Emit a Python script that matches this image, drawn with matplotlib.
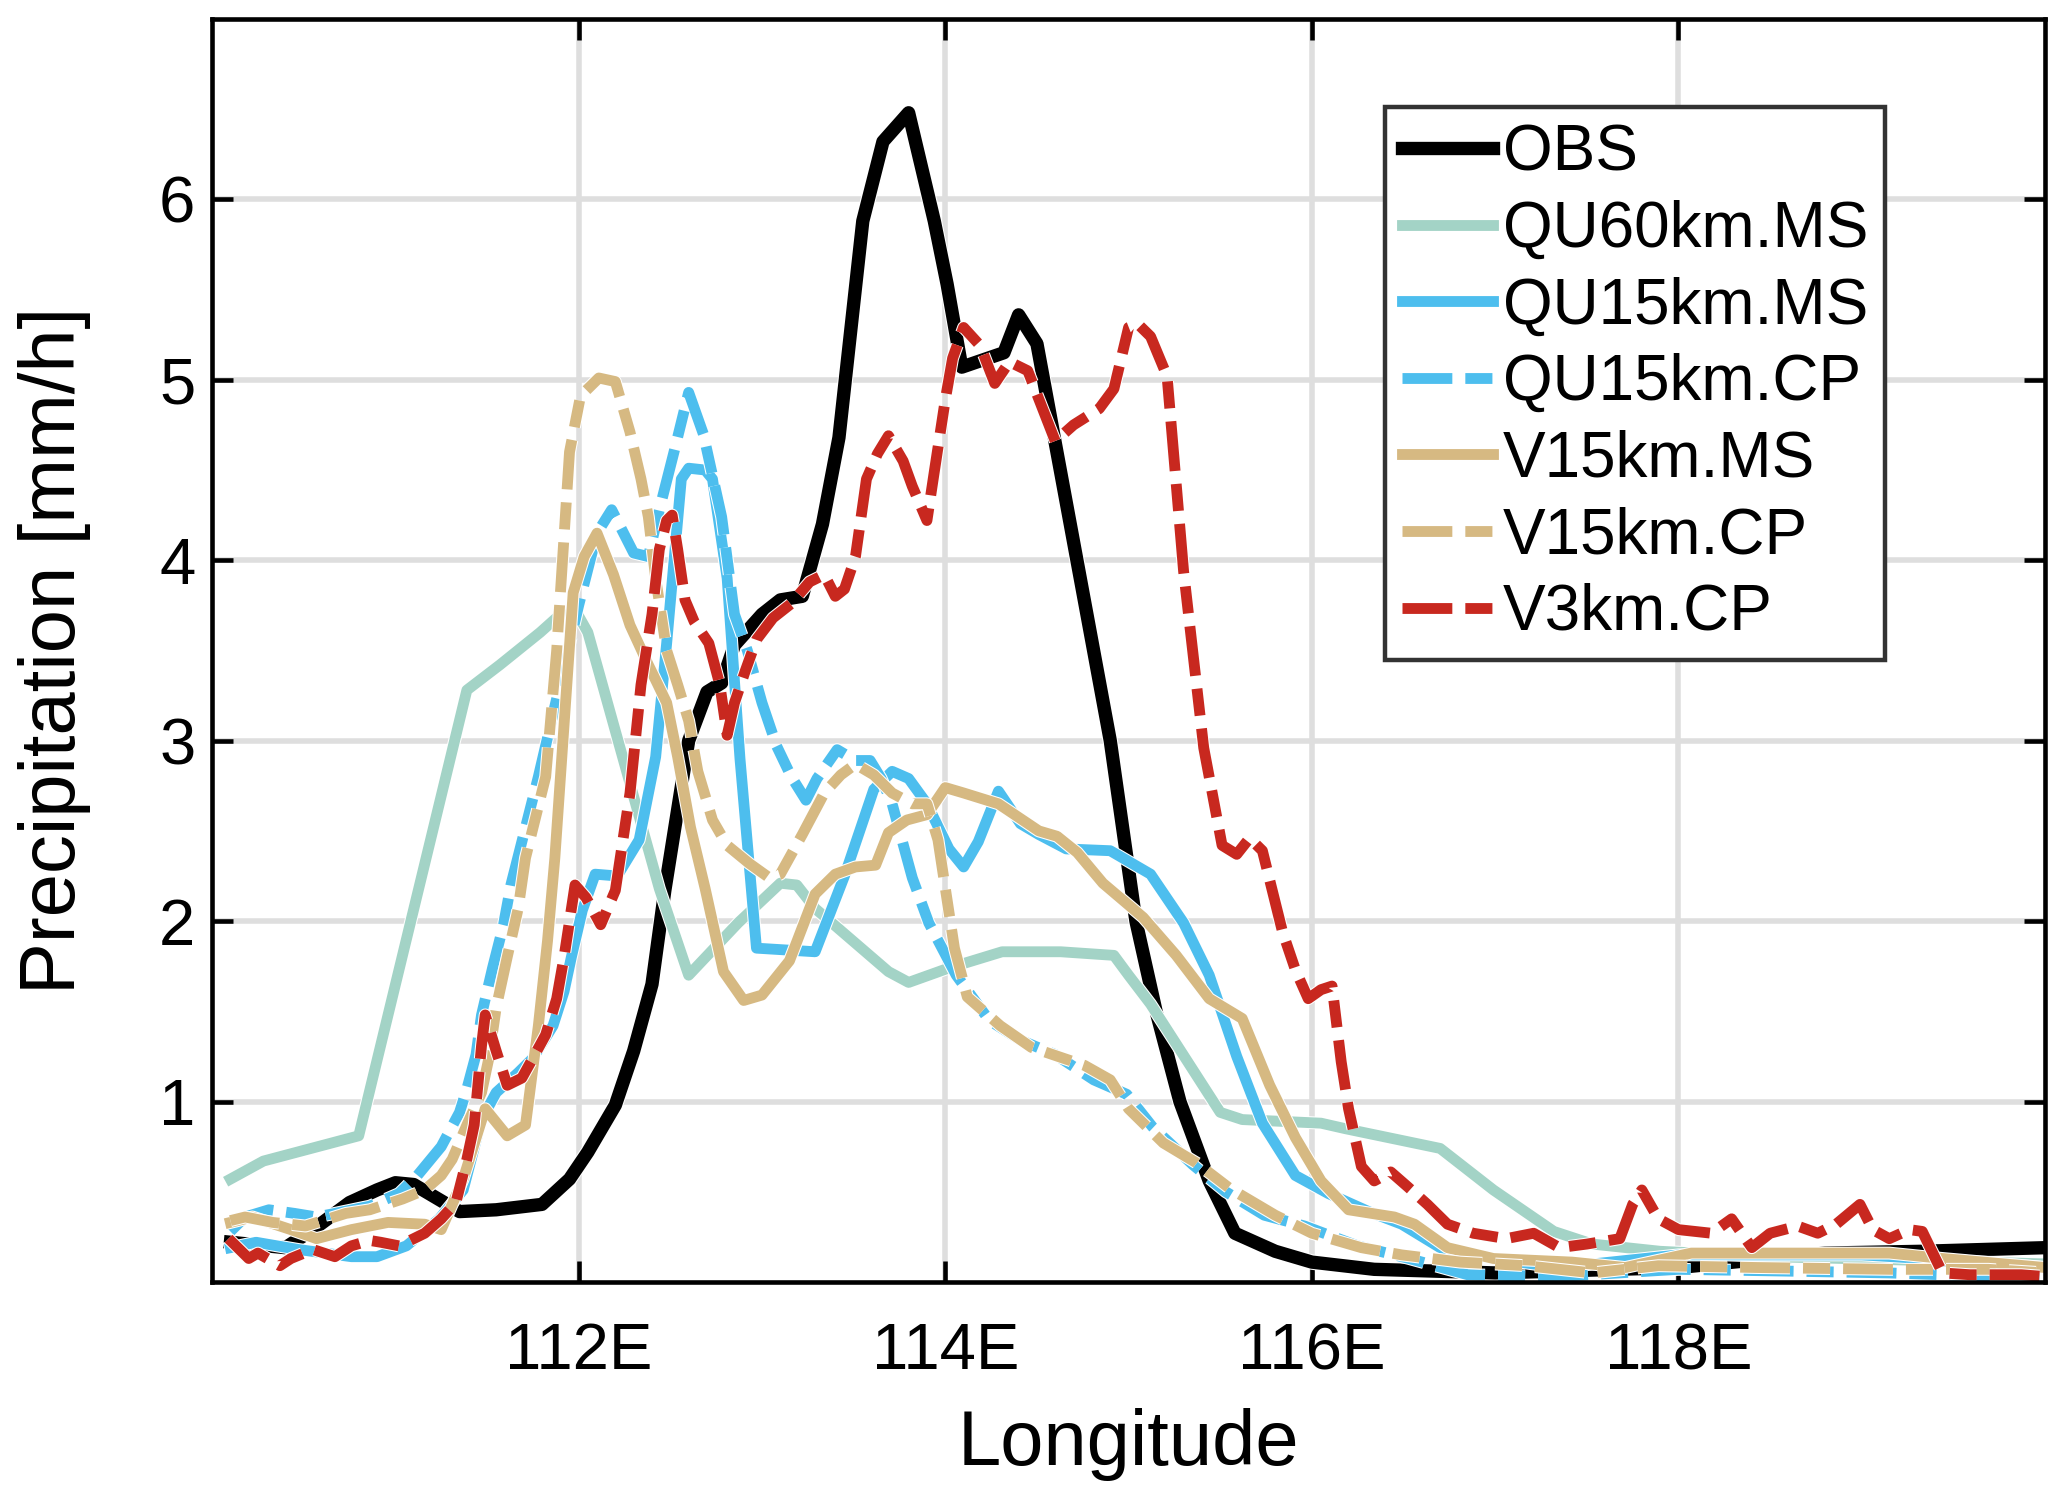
import matplotlib
matplotlib.use('Agg')
import matplotlib.pyplot as plt
import matplotlib.patheffects as pe

plt.rcParams['font.family'] = ['Liberation Sans', 'DejaVu Sans']

# ---------------- data ----------------
obs_lon = [110.1, 110.4, 110.55, 110.75, 110.9, 111.0, 111.1, 111.2, 111.35, 111.55,
           111.8, 111.95, 112.05, 112.2, 112.3, 112.4, 112.47, 112.6, 112.7, 112.78,
           112.85, 113.0, 113.1, 113.22, 113.33, 113.42, 113.55, 113.66, 113.8, 113.94,
           114.01, 114.09, 114.32, 114.4, 114.5, 114.6, 114.9, 115.04, 115.15, 115.28,
           115.44, 115.58, 115.8, 116.0, 116.34, 117.0, 118.0, 118.8, 119.33, 120.0]
obs_val = [0.22, 0.19, 0.29, 0.44, 0.51, 0.55, 0.54, 0.48, 0.39, 0.40,
           0.43, 0.57, 0.72, 0.98, 1.28, 1.65, 2.17, 3.0, 3.27, 3.32,
           3.53, 3.70, 3.78, 3.80, 4.2, 4.68, 5.88, 6.32, 6.48, 5.88,
           5.53, 5.07, 5.15, 5.36, 5.2, 4.65, 3.0, 2.0, 1.5, 1.0,
           0.56, 0.27, 0.17, 0.11, 0.07, 0.05, 0.08, 0.16, 0.17, 0.19]

qu60ms_lon = [110.1, 110.28, 110.8, 111.39, 111.57, 111.79, 111.9, 112.0, 112.05, 112.44,
              112.6, 112.87, 113.1, 113.19, 113.29, 113.69, 113.8, 114.02, 114.31, 114.63,
              114.92, 115.0, 115.12, 115.5, 115.62, 116.05, 116.18, 116.7, 116.99, 117.32,
              117.53, 117.9, 118.5, 119.3, 120.0]
qu60ms_val = [0.57, 0.67, 0.81, 3.28, 3.42, 3.6, 3.7, 3.69, 3.6, 2.18,
              1.70, 1.99, 2.21, 2.2, 2.07, 1.72, 1.66, 1.74, 1.83, 1.83,
              1.81, 1.70, 1.54, 0.94, 0.90, 0.88, 0.85, 0.74, 0.51, 0.28,
              0.21, 0.17, 0.14, 0.12, 0.10]

qu15ms_lon = [110.1, 110.24, 110.47, 110.76, 110.9, 111.06, 111.24, 111.37, 111.47, 111.55,
              111.67, 111.75, 111.86, 111.92, 111.96, 112.02, 112.09, 112.21, 112.33, 112.42,
              112.48, 112.56, 112.6, 112.69, 112.73, 112.81, 112.88, 112.97, 113.29, 113.45,
              113.61, 113.71, 113.8, 113.9, 114.02, 114.1, 114.18, 114.29, 114.41, 114.51,
              114.66, 114.9, 115.12, 115.3, 115.44, 115.59, 115.73, 115.91, 116.09, 116.31,
              116.49, 116.7, 116.99, 117.35, 118.0, 119.0, 119.5, 120.0]
qu15ms_val = [0.19, 0.22, 0.18, 0.14, 0.14, 0.2, 0.35, 0.51, 0.90, 1.05,
              1.16, 1.24, 1.42, 1.61, 1.80, 2.06, 2.26, 2.25, 2.45, 2.91,
              3.54, 4.45, 4.51, 4.50, 4.45, 3.9, 2.9, 1.85, 1.83, 2.25,
              2.73, 2.83, 2.79, 2.65, 2.40, 2.30, 2.44, 2.72, 2.54, 2.48,
              2.40, 2.39, 2.26, 1.99, 1.70, 1.25, 0.88, 0.59, 0.49, 0.39,
              0.32, 0.19, 0.13, 0.08, 0.15, 0.15, 0.12, 0.08]

qu15cp_lon = [110.1, 110.18, 110.31, 110.45, 110.57, 110.67, 110.86, 111.02, 111.12, 111.25,
              111.35, 111.39, 111.44, 111.47, 111.53, 111.59, 111.63, 111.78, 111.9, 112.0,
              112.1, 112.18, 112.3, 112.38, 112.45, 112.52, 112.6, 112.68, 112.78, 112.85,
              112.92, 113.0, 113.08, 113.16, 113.24, 113.3, 113.41, 113.51, 113.59, 113.65,
              113.71, 113.82, 113.91, 114.06, 114.24, 114.41, 114.6, 114.81, 114.99, 115.13,
              115.35, 115.53, 115.74, 115.96, 116.25, 116.53, 116.85, 117.35, 118.0, 118.6,
              119.15, 120.0]
qu15cp_val = [0.28, 0.36, 0.40, 0.38, 0.36, 0.38, 0.42, 0.49, 0.59, 0.75,
              0.94, 1.07, 1.26, 1.48, 1.74, 1.98, 2.20, 2.8, 3.32, 3.75,
              4.15, 4.28, 4.04, 4.02, 4.32, 4.6, 4.93, 4.7, 4.24, 3.7,
              3.5, 3.21, 2.97, 2.8, 2.67, 2.79, 2.95, 2.89, 2.89, 2.79,
              2.65, 2.24, 1.99, 1.70, 1.45, 1.34, 1.26, 1.12, 1.04, 0.86,
              0.65, 0.5, 0.37, 0.31, 0.2, 0.13, 0.04, 0.03, 0.07, 0.06,
              0.05, 0.02]

v15ms_lon = [110.1, 110.22, 110.43, 110.57, 110.76, 110.96, 111.16, 111.25, 111.37, 111.49,
             111.61, 111.71, 111.78, 111.83, 111.87, 111.97, 112.03, 112.1, 112.19, 112.28,
             112.38, 112.48, 112.54, 112.61, 112.69, 112.79, 112.9, 113.0, 113.15, 113.29,
             113.4, 113.51, 113.62, 113.69, 113.79, 113.9, 114.0, 114.1, 114.29, 114.51,
             114.61, 114.72, 114.86, 115.08, 115.26, 115.44, 115.62, 115.77, 115.91, 116.05,
             116.2, 116.45, 116.56, 116.74, 116.99, 117.42, 117.71, 118.07, 119.15, 119.44,
             120.0]
v15ms_val = [0.33, 0.36, 0.29, 0.24, 0.29, 0.33, 0.32, 0.29, 0.57, 0.96,
             0.81, 0.87, 1.42, 1.89, 2.35, 3.82, 4.02, 4.15, 3.92, 3.64,
             3.42, 3.21, 2.91, 2.52, 2.18, 1.72, 1.56, 1.59, 1.78, 2.15,
             2.26, 2.30, 2.31, 2.49, 2.56, 2.59, 2.74, 2.71, 2.65, 2.50,
             2.47, 2.38, 2.21, 2.02, 1.81, 1.57, 1.46, 1.09, 0.80, 0.56,
             0.40, 0.36, 0.32, 0.19, 0.13, 0.11, 0.08, 0.16, 0.16, 0.13,
             0.08]

v15cp_lon = [110.1, 110.18, 110.33, 110.51, 110.73, 110.86, 111.04, 111.16, 111.25, 111.31,
             111.39, 111.47, 111.51, 111.55, 111.61, 111.67, 111.71, 111.82, 111.88, 111.95,
             112.01, 112.11, 112.2, 112.28, 112.34, 112.38, 112.42, 112.48, 112.54, 112.6,
             112.65, 112.73, 112.81, 112.93, 113.04, 113.1, 113.22, 113.34, 113.43, 113.51,
             113.61, 113.71, 113.82, 113.9, 113.96, 114.05, 114.12, 114.3, 114.47, 114.76,
             114.9, 115.0, 115.19, 115.37, 115.55, 115.8, 116.0, 116.27, 116.49, 116.81,
             117.17, 117.53, 117.89, 118.43, 119.15, 119.69, 120.0]
v15cp_val = [0.34, 0.36, 0.33, 0.31, 0.38, 0.40, 0.46, 0.51, 0.59, 0.68,
             0.87, 1.05, 1.24, 1.52, 1.80, 2.07, 2.35, 2.8, 3.5, 4.6,
             4.91, 5.01, 4.99, 4.71, 4.45, 4.24, 3.90, 3.50, 3.31, 3.11,
             2.83, 2.56, 2.42, 2.32, 2.24, 2.26, 2.48, 2.71, 2.81, 2.87,
             2.81, 2.71, 2.65, 2.65, 2.45, 1.85, 1.58, 1.42, 1.30, 1.20,
             1.12, 0.96, 0.77, 0.66, 0.52, 0.37, 0.27, 0.19, 0.15, 0.11,
             0.09, 0.05, 0.09, 0.08, 0.07, 0.07, 0.05]

v3cp_lon = [110.09, 110.2, 110.25, 110.37, 110.43, 110.55, 110.67, 110.76, 110.86, 110.92,
            111.02, 111.16, 111.25, 111.33, 111.39, 111.43, 111.47, 111.49, 111.55, 111.61,
            111.69, 111.75, 111.82, 111.88, 111.92, 111.98, 112.04, 112.12, 112.2, 112.28,
            112.34, 112.4, 112.44, 112.48, 112.51, 112.54, 112.58, 112.63, 112.71, 112.77,
            112.81, 112.85, 112.91, 112.97, 113.06, 113.16, 113.26, 113.34, 113.4, 113.45,
            113.51, 113.57, 113.63, 113.69, 113.77, 113.82, 113.9, 113.94, 114.0, 114.04,
            114.1, 114.19, 114.27, 114.35, 114.45, 114.6, 114.7, 114.84, 114.92, 115.0,
            115.05, 115.12, 115.21, 115.3, 115.41, 115.46, 115.51, 115.59, 115.66, 115.73,
            115.84, 115.91, 115.98, 116.05, 116.11, 116.16, 116.2, 116.27, 116.34, 116.43,
            116.52, 116.63, 116.74, 116.88, 117.06, 117.21, 117.35, 117.5, 117.68, 117.75,
            117.8, 117.89, 118.0, 118.18, 118.29, 118.4, 118.5, 118.65, 118.76, 118.86,
            118.99, 119.06, 119.15, 119.26, 119.33, 119.44, 119.59, 119.87, 120.0]
v3cp_val = [0.24, 0.13, 0.16, 0.09, 0.13, 0.18, 0.14, 0.20, 0.23, 0.22,
            0.20, 0.27, 0.35, 0.44, 0.68, 0.87, 1.31, 1.48, 1.28, 1.09,
            1.13, 1.24, 1.37, 1.57, 1.80, 2.20, 2.13, 1.98, 2.17, 2.71,
            3.31, 3.70, 4.06, 4.22, 4.25, 4.06, 3.78, 3.66, 3.54, 3.31,
            3.03, 3.21, 3.39, 3.56, 3.68, 3.76, 3.88, 3.92, 3.80, 3.84,
            4.02, 4.45, 4.59, 4.69, 4.55, 4.41, 4.22, 4.49, 4.89, 5.12,
            5.29, 5.19, 4.98, 5.10, 5.05, 4.66, 4.75, 4.84, 4.95, 5.29,
            5.31, 5.24, 5.02, 3.94, 2.96, 2.69, 2.42, 2.37, 2.46, 2.39,
            1.94, 1.73, 1.57, 1.62, 1.64, 1.22, 0.96, 0.64, 0.56, 0.61,
            0.53, 0.43, 0.32, 0.27, 0.24, 0.27, 0.19, 0.21, 0.24, 0.43,
            0.51, 0.35, 0.29, 0.27, 0.35, 0.19, 0.27, 0.31, 0.27, 0.32,
            0.43, 0.29, 0.24, 0.29, 0.28, 0.05, 0.04, 0.04, 0.03]

labels = ['OBS', 'QU60km.MS', 'QU15km.MS', 'QU15km.CP', 'V15km.MS', 'V15km.CP', 'V3km.CP']
xtick_vals = [112, 114, 116, 118]
xtick_labels = ['112E', '114E', '116E', '118E']
ytick_vals = [1, 2, 3, 4, 5, 6]

# ---------------- styles ----------------
c_obs = '#000000'
c_teal = '#a3d3c6'
c_blue = '#4dbeee'
c_tan = '#d6b982'
c_red = '#c8281f'

lw_obs = 9.6
lw_mod = 7.8

series = [
    (obs_lon, obs_val, c_obs, '-', lw_obs),
    (qu60ms_lon, qu60ms_val, c_teal, '-', lw_mod),
    (qu15ms_lon, qu15ms_val, c_blue, '-', lw_mod),
    (qu15cp_lon, qu15cp_val, c_blue, '--', lw_mod),
    (v15ms_lon, v15ms_val, c_tan, '-', lw_mod),
    (v15cp_lon, v15cp_val, c_tan, '--', lw_mod),
    (v3cp_lon, v3cp_val, c_red, '--', lw_mod),
]

fig = plt.figure(figsize=(20.67, 15.02), dpi=100)
ax = fig.add_axes([0.1026, 0.1465, 0.8868, 0.8409])

for (lon, val, col, ls, lw), lab in zip(series, labels):
    kw = dict(color=col, lw=lw, label=lab, solid_joinstyle='round',
              path_effects=[pe.Stroke(linewidth=lw + 1.5, foreground='white'), pe.Normal()])
    if ls == '--':
        kw['dashes'] = (4.6, 1.2, 2.5, 1.2)
        kw['dash_capstyle'] = 'butt'
    ax.plot(lon, val, **kw)

ax.set_xlim(110, 120)
ax.set_ylim(0, 7)
ax.set_xticks(xtick_vals)
ax.set_xticklabels(xtick_labels)
ax.set_yticks(ytick_vals)

ax.grid(True, color='#dedede', lw=4.0)
ax.set_axisbelow(True)

ax.tick_params(axis='both', which='both', direction='in', length=15, width=3.3,
               top=True, right=True, labelsize=47)
ax.tick_params(axis='x', pad=29)
ax.tick_params(axis='y', pad=12)
for sp in ax.spines.values():
    sp.set_linewidth(3.3)

ax.set_xlabel('Longitude', fontsize=56)
ax.set_ylabel('Precipitation [mm/h]', fontsize=56)
ax.xaxis.set_label_coords(0.5, -0.1)
ax.yaxis.set_label_coords(-0.066, 0.5)

leg = ax.legend(loc='upper left', bbox_to_anchor=(0.640, 0.9305), borderaxespad=0,
                fontsize=46, frameon=True, fancybox=False, framealpha=1,
                edgecolor='#333333', handlelength=1.42, handletextpad=0.16,
                labelspacing=0.26, borderpad=0.26)
leg.get_frame().set_linewidth(3.2)

fig.savefig('out.png', dpi=100)
